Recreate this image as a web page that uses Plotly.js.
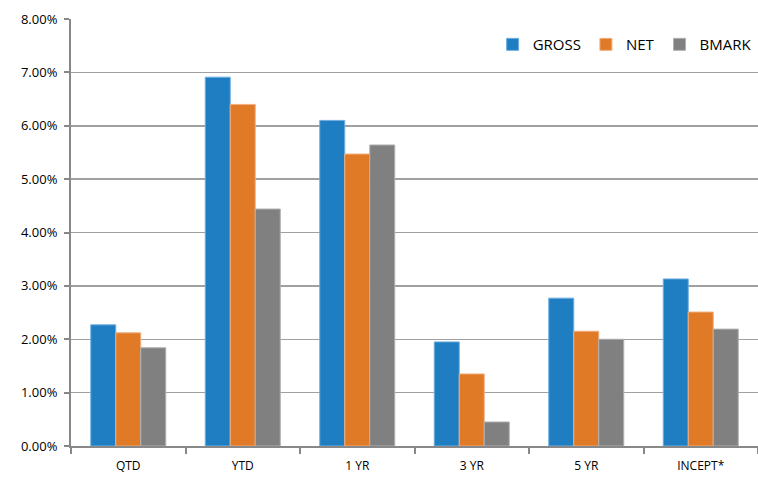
<!DOCTYPE html>
<html>
<head>
<meta charset="utf-8">
<script src="https://cdn.plot.ly/plotly-3.0.1.min.js"></script>
<style>html,body{margin:0;padding:0;background:#fff;}#chart{width:758px;height:477px;}</style>
</head>
<body>
<div id="chart"></div>
<script>
var categories = ["QTD", "YTD", "1 YR", "3 YR", "5 YR", "INCEPT*"];
var gross = [2.27, 6.91, 6.10, 1.95, 2.77, 3.13];
var net   = [2.12, 6.40, 5.47, 1.35, 2.15, 2.51];
var bmark = [1.84, 4.44, 5.64, 0.45, 2.00, 2.19];
var seriesNames = ["GROSS", "NET", "BMARK"];
var colors = ["#1F7EC2", "#E07A27", "#808080"];
var edgeColors = ["#6FAEE0", "#F0B080", "#B0B0B0"];
var seriesData = [gross, net, bmark];

var traces = seriesData.map(function (vals, i) {
  return {
    type: "bar",
    name: seriesNames[i],
    x: categories,
    y: vals,
    marker: {color: colors[i], line: {color: edgeColors[i], width: 1}},
    hoverinfo: "none"
  };
});

var layout = {
  width: 758, height: 477,
  margin: {l: 71, r: 0, t: 19, b: 31, pad: 0},
  paper_bgcolor: "#fff", plot_bgcolor: "#fff",
  barmode: "group", bargap: 0.345, bargroupgap: 0,
  font: {family: "'Open Sans', Lato, sans-serif", color: "#000"},
  showlegend: true,
  legend: {orientation: "h", x: 0.998, xanchor: "right", y: 0.94, yanchor: "middle",
           font: {size: 15, color: "#000"}, bgcolor: "rgba(0,0,0,0)",
           itemwidth: 30, tracegroupgap: 0, traceorder: "normal"},
  xaxis: {type: "category", showline: true, linecolor: "#888", linewidth: 2,
          ticks: "outside", tickson: "boundaries", ticklen: 6, tickcolor: "#888", tickwidth: 2,
          ticklabelstandoff: 8,
          tickfont: {size: 12, color: "#000"}, showgrid: false, zeroline: false, fixedrange: true},
  yaxis: {range: [0, 8], dtick: 1, tickformat: ".2f", ticksuffix: "%",
          showline: true, linecolor: "#888", linewidth: 2,
          ticks: "outside", ticklen: 5, tickcolor: "#888", tickwidth: 2,
          ticklabelstandoff: 4,
          showgrid: true, gridcolor: "#A0A0A0", gridwidth: 1.5, zeroline: false,
          tickfont: {size: 13, color: "#000"}, fixedrange: true}
};

Plotly.newPlot("chart", traces, layout, {displayModeBar: false, staticPlot: true});
</script>
</body>
</html>
